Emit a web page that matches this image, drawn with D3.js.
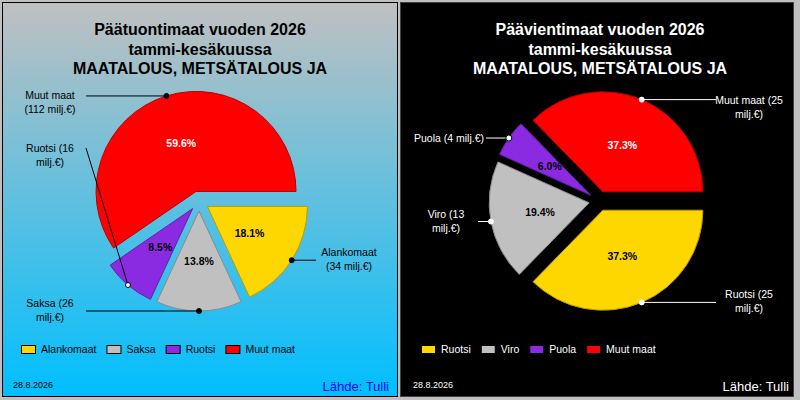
<!DOCTYPE html>
<html><head><meta charset="utf-8">
<script src="https://cdn.jsdelivr.net/npm/d3@7/dist/d3.min.js"></script>
<style>
body{margin:0;background:#c0c0c0}
svg{display:block;font-family:Arial,"Liberation Sans",sans-serif}
</style>
</head><body>
<svg id="chart" width="800" height="400"></svg>
<script>
// ---------- data ----------
const importTitle = ["Päätuontimaat vuoden 2026", "tammi-kesäkuussa", "MAATALOUS, METSÄTALOUS JA"];
const importCategories = ["Alankomaat", "Saksa", "Ruotsi", "Muut maat"];
const importValues = [34, 26, 16, 112];
const importLabels = [["Alankomaat", "(34 milj.€)"], ["Saksa (26", "milj.€)"], ["Ruotsi (16", "milj.€)"], ["Muut maat", "(112 milj.€)"]];

const exportTitle = ["Päävientimaat vuoden 2026", "tammi-kesäkuussa", "MAATALOUS, METSÄTALOUS JA"];
const exportCategories = ["Ruotsi", "Viro", "Puola", "Muut maat"];
const exportValues = [25, 13, 4, 25];
const exportLabels = [["Ruotsi (25", "milj.€)"], ["Viro (13", "milj.€)"], ["Puola (4 milj.€)"], ["Muut maat (25", "milj.€)"]];

const sliceColors = ["#ffd700", "#c0c0c0", "#8a2be2", "#ff0000"];
const dateText = "28.8.2026";
const sourceText = "Lähde: Tulli";

// ---------- layout (label placement) ----------
const importLabelLayout = [
  {tx: 349, ty: 252, lx: 316, ly: null, dot: "#000"},
  {tx: 50,  ty: 303, lx: 86,  ly: null, dot: "#000"},
  {tx: 50,  ty: 148, lx: 86,  ly: 148,  dot: "#fff"},
  {tx: 50,  ty: 95,  lx: 86,  ly: null, dot: "#000"}
];
const exportLabelLayout = [
  {tx: 749, ty: 294, lx: 716, ly: null, dot: "#fff"},
  {tx: 446, ty: 214, lx: 478, ly: null, dot: "#fff"},
  {tx: 449, ty: 138, lx: 486, ly: null, dot: "#fff", ring: true},
  {tx: 749, ty: 100, lx: 716, ly: null, dot: "#fff"}
];

const svg = d3.select("#chart");
const defs = svg.append("defs");
const grad = defs.append("linearGradient").attr("id", "bgL").attr("x1", 0).attr("y1", 0).attr("x2", 0).attr("y2", 1);
grad.append("stop").attr("offset", "0%").attr("stop-color", "#c0c0c0");
grad.append("stop").attr("offset", "100%").attr("stop-color", "#00bfff");

// panels
svg.append("rect").attr("x", 2.5).attr("y", 2.5).attr("width", 395).attr("height", 394)
  .attr("fill", "url(#bgL)").attr("stroke", "#000");
svg.append("rect").attr("x", 400.5).attr("y", 2.5).attr("width", 393).attr("height", 394)
  .attr("fill", "#000").attr("stroke", "#404040");

function drawPanel(cfg) {
  const g = svg.append("g");
  const fg = cfg.fg;
  // title
  const title = g.append("text").attr("text-anchor", "middle").attr("font-weight", "bold")
    .attr("font-size", 16).attr("fill", fg);
  cfg.title.forEach((t, i) => title.append("tspan").attr("x", cfg.x0 + 200).attr("y", 35 + i * 19.5).text(t));

  const total = d3.sum(cfg.values);
  const pie = d3.pie().sort(null).value(d => d).startAngle(Math.PI / 2).endAngle(Math.PI / 2 + 2 * Math.PI);
  const arcs = pie(cfg.values);
  const r = 100, explode = 10;
  const arc = d3.arc().innerRadius(0).outerRadius(r);
  const rimArc = d3.arc().innerRadius(r).outerRadius(r);
  const offArc = d3.arc().innerRadius(explode).outerRadius(explode);
  const pct = d3.format(".1%");

  const pieG = g.append("g").attr("transform", `translate(${cfg.cx},${cfg.cy})`);
  const slices = pieG.selectAll("g.slice").data(arcs).join("g")
    .attr("transform", d => { const c = offArc.centroid(d); return `translate(${c[0]},${c[1]})`; });
  slices.append("path").attr("d", arc)
    .attr("fill", (d, i) => sliceColors[i])
    .attr("stroke", (d, i) => d3.color(sliceColors[i]).darker(0.9))
    .attr("stroke-width", 1);
  slices.append("text").attr("transform", d => `translate(${arc.centroid(d)})`)
    .attr("text-anchor", "middle").attr("dy", "0.35em")
    .attr("font-weight", "bold").attr("font-size", 10.5)
    .attr("fill", (d, i) => i === 3 && cfg.x0 === 0 ? "#fff" : (i === 3 ? "#fff" : "#000"))
    .text(d => pct(d.value / total));

  // leader lines & labels
  arcs.forEach((d, i) => {
    const o = offArc.centroid(d), p = rimArc.centroid(d);
    const dx = cfg.cx + o[0] + p[0], dy = cfg.cy + o[1] + p[1];
    const L = cfg.layout[i];
    const ly = L.ly == null ? dy : L.ly;
    g.append("line").attr("x1", L.lx).attr("y1", ly).attr("x2", dx).attr("y2", dy)
      .attr("stroke", fg).attr("stroke-width", 1);
    g.append("circle").attr("cx", dx).attr("cy", dy).attr("r", L.ring ? 3 : 2.5)
      .attr("fill", L.dot).attr("stroke", L.ring || L.dot === "#fff" && cfg.x0 === 0 ? "#000" : L.dot).attr("stroke-width", 1);
    const t = g.append("text").attr("text-anchor", "middle").attr("font-size", 10.5).attr("fill", fg);
    cfg.labels[i].forEach((s, k) => t.append("tspan").attr("x", L.tx).attr("y", L.ty + k * 14).attr("dy", "0.35em").text(s));
  });

  // legend
  let lx = cfg.x0 + 21.5;
  cfg.categories.forEach((c, i) => {
    g.append("rect").attr("x", lx).attr("y", 345.5).attr("width", 14).attr("height", 8)
      .attr("fill", sliceColors[i]).attr("stroke", "#000");
    const t = g.append("text").attr("x", lx + 19.5).attr("y", 349.5).attr("dy", "0.35em")
      .attr("font-size", 10.5).attr("fill", fg).text(c);
    lx += 19.5 + t.node().getComputedTextLength() + 10.5;
  });

  // footer
  g.append("text").attr("x", cfg.x0 + 13).attr("y", 388).attr("font-size", 9).attr("fill", fg).text(dateText);
  g.append("text").attr("x", cfg.x0 + 389).attr("y", 391).attr("text-anchor", "end")
    .attr("font-size", 13).attr("fill", cfg.src).text(sourceText);
}

drawPanel({x0: 0, cx: 199, cy: 201, fg: "#000", src: "#0000ff", title: importTitle,
  categories: importCategories, values: importValues, labels: importLabels, layout: importLabelLayout});
drawPanel({x0: 400, cx: 599, cy: 201, fg: "#fff", src: "#fff", title: exportTitle,
  categories: exportCategories, values: exportValues, labels: exportLabels, layout: exportLabelLayout});
</script>
</body></html>
